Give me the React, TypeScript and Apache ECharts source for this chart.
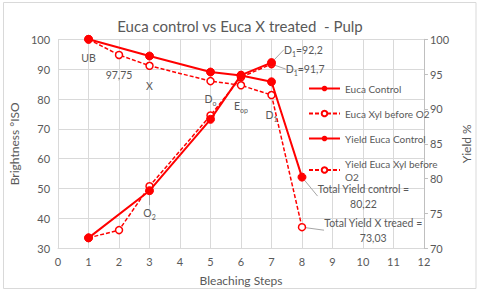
import React, { useEffect, useRef } from 'react';
import * as echarts from 'echarts';

// ---- Data ----
const titleText = 'Euca control vs Euca X treated  - Pulp';
const seriesNames = ['Euca Control', 'Euca Xyl before O2', 'Yield Euca Control', 'Yield Euca Xyl before O2'];

const controlSteps = [1, 3, 5, 6, 7];
const controlBrightness = [33.5, 49.3, 73.2, 88.0, 92.2];

const xylSteps = [1, 2, 3, 5, 6, 7];
const xylBrightness = [33.5, 36.1, 50.8, 74.5, 87.3, 91.7];

const yieldControlSteps = [1, 3, 5, 6, 7, 8];
const yieldControl = [100, 97.6, 95.3, 94.8, 93.9, 80.22];

const yieldXylSteps = [1, 2, 3, 5, 6, 7, 8];
const yieldXyl = [100, 97.75, 96.2, 94.0, 93.4, 92.0, 73.03];

// point annotations (rich text, {s|..} = subscript)
const controlLabels = ['', 'O{s|2}', '', '', 'D{s|1}=92,2'];
const xylLabels = ['', '', '', '', '', 'D{s|1}=91,7'];
const yieldControlLabels = ['UB', '', '', '', '', 'Total Yield control =\n80,22'];
const yieldXylLabels = ['', '97,75', 'X', 'D{s|o}', 'E{s|op}', 'D{s|1}', 'Total Yield X treaed =\n73,03'];

const xTicks = { min: 0, max: 12, interval: 1 };
const leftTicks = { min: 30, max: 100, interval: 10 };
const rightTicks = { min: 70, max: 100, interval: 5 };

// ---- Styling ----
const RED = '#ff0000';
const GREY = '#595959';
const GRID = '#d9d9d9';
const FONT = 'Lato, "Open Sans", sans-serif';

const richSub = {
  s: { fontSize: 7, fontFamily: FONT, color: GREY, verticalAlign: 'bottom', padding: [4, 0, 0, 0] },
};

type Place = { position: string; distance?: number; dx?: number; dy?: number; leader?: boolean; align?: string };
const controlPlace: Record<number, Place> = {
  1: { position: 'bottom', distance: 4, dy: 6, leader: true },
  4: { position: 'right', distance: 5, dx: 3, dy: -13, leader: true },
};
const xylPlace: Record<number, Place> = {
  5: { position: 'right', distance: 5, dx: 5, dy: 5, leader: true },
};
const yieldControlPlace: Record<number, Place> = {
  0: { position: 'bottom', distance: 7 },
  5: { position: 'right', distance: 5, dx: 52, dy: 19, leader: true, align: 'center' },
};
const yieldXylPlace: Record<number, Place> = {
  1: { position: 'bottom', distance: 8 },
  2: { position: 'bottom', distance: 8 },
  3: { position: 'bottom', distance: 6 },
  4: { position: 'bottom', distance: 9 },
  5: { position: 'bottom', distance: 8 },
  6: { position: 'right', distance: 5, dx: 62, dy: 3, leader: true, align: 'center' },
};

function buildData(xs: number[], ys: number[], labels: string[], place: Record<number, Place>) {
  return xs.map((x, i) => {
    const text = labels[i];
    if (!text) return { value: [x, ys[i]], label: { show: false }, labelLine: { show: false } };
    const p = place[i] || { position: 'bottom', distance: 8 };
    return {
      value: [x, ys[i]],
      label: {
        show: true,
        formatter: text,
        position: p.position,
        distance: p.distance ?? 5,
        align: p.align,
        color: GREY,
        fontSize: 10.5,
        fontFamily: FONT,
        lineHeight: 15,
        rich: richSub,
      },
      labelLine: {
        show: !!p.leader,
        length2: 0,
        lineStyle: { color: '#a6a6a6', width: 1 },
      },
    };
  });
}

function layoutFor(place: Record<number, Place>) {
  return (params: any) => {
    const p = place[params.dataIndex];
    if (!p) return {};
    return { dx: p.dx || 0, dy: p.dy || 0 };
  };
}

export default function App() {
  const ref = useRef<HTMLDivElement>(null);
  useEffect(() => {
    if (!ref.current) return;
    const chart = echarts.init(ref.current, undefined, { renderer: 'svg' });

    const solidSeries = (name: string, data: any[], yAxisIndex: number, place: Record<number, Place>) => ({
      name,
      type: 'line',
      yAxisIndex,
      data,
      symbol: 'circle',
      symbolSize: 8,
      itemStyle: { color: RED, borderColor: RED },
      lineStyle: { color: RED, width: 2 },
      labelLayout: layoutFor(place),
      z: 3,
    });
    const dashedSeries = (name: string, data: any[], yAxisIndex: number, place: Record<number, Place>) => ({
      name,
      type: 'line',
      yAxisIndex,
      data,
      symbol: 'circle',
      symbolSize: 7,
      itemStyle: { color: '#ffffff', borderColor: RED, borderWidth: 1.5 },
      lineStyle: { color: RED, width: 1.5, type: [4, 2] },
      labelLayout: layoutFor(place),
      z: 2,
    });

    chart.setOption({
      animation: false,
      backgroundColor: '#ffffff',
      textStyle: { fontFamily: FONT },
      title: {
        text: titleText,
        left: 'center',
        top: 13,
        textStyle: { fontSize: 15, fontWeight: 'normal', color: GREY, fontFamily: FONT },
      },
      graphic: [
        {
          type: 'rect',
          shape: { x: 3.5, y: 2.5, width: 472.5, height: 286 },
          style: { fill: 'none', stroke: GRID, lineWidth: 1 },
          silent: true,
          z: -10,
        },
      ],
      legend: {
        orient: 'vertical',
        left: 303,
        top: 77,
        itemWidth: 31,
        itemHeight: 7,
        itemGap: 12,
        textStyle: { fontSize: 10, color: GREY, fontFamily: FONT, lineHeight: 13 },
        formatter: (name: string) => (name === seriesNames[3] ? 'Yield Euca Xyl before\nO2' : name),
        data: seriesNames,
      },
      grid: { left: 49.5, right: 51, top: 39.3, bottom: 43.7, containLabel: false },
      xAxis: {
        type: 'value',
        min: xTicks.min,
        max: xTicks.max,
        interval: xTicks.interval,
        name: 'Bleaching Steps',
        nameLocation: 'middle',
        nameGap: 26,
        nameTextStyle: { fontSize: 12, color: GREY, fontFamily: FONT },
        axisLine: { show: true, lineStyle: { color: GRID } },
        axisTick: { show: false },
        axisLabel: { color: GREY, fontSize: 11, fontFamily: FONT, margin: 8 },
        splitLine: { show: true, lineStyle: { color: GRID } },
      },
      yAxis: [
        {
          type: 'value',
          position: 'left',
          min: leftTicks.min,
          max: leftTicks.max,
          interval: leftTicks.interval,
          name: 'Brightness °ISO',
          nameLocation: 'middle',
          nameRotate: 90,
          nameGap: 35,
          nameTextStyle: { fontSize: 12, color: GREY, fontFamily: FONT },
          axisLine: { show: false },
          axisTick: { show: false },
          axisLabel: { color: GREY, fontSize: 11, fontFamily: FONT, margin: 8 },
          splitLine: { show: true, lineStyle: { color: GRID } },
        },
        {
          type: 'value',
          position: 'right',
          min: rightTicks.min,
          max: rightTicks.max,
          interval: rightTicks.interval,
          name: 'Yield %',
          nameLocation: 'middle',
          nameRotate: 90,
          nameGap: 34,
          nameTextStyle: { fontSize: 12, color: GREY, fontFamily: FONT },
          axisLine: { show: true, lineStyle: { color: '#bfbfbf' } },
          axisTick: { show: true, length: 4, lineStyle: { color: '#bfbfbf' } },
          axisLabel: { color: GREY, fontSize: 11, fontFamily: FONT, margin: 6 },
          splitLine: { show: false },
        },
      ],
      series: [
        solidSeries(seriesNames[0], buildData(controlSteps, controlBrightness, controlLabels, controlPlace), 0, controlPlace),
        dashedSeries(seriesNames[1], buildData(xylSteps, xylBrightness, xylLabels, xylPlace), 0, xylPlace),
        solidSeries(seriesNames[2], buildData(yieldControlSteps, yieldControl, yieldControlLabels, yieldControlPlace), 1, yieldControlPlace),
        dashedSeries(seriesNames[3], buildData(yieldXylSteps, yieldXyl, yieldXylLabels, yieldXylPlace), 1, yieldXylPlace),
      ],
    });
    return () => chart.dispose();
  }, []);
  return <div ref={ref} style={{ position: 'fixed', left: 0, top: 0, width: 480, height: 292 }} />;
}
